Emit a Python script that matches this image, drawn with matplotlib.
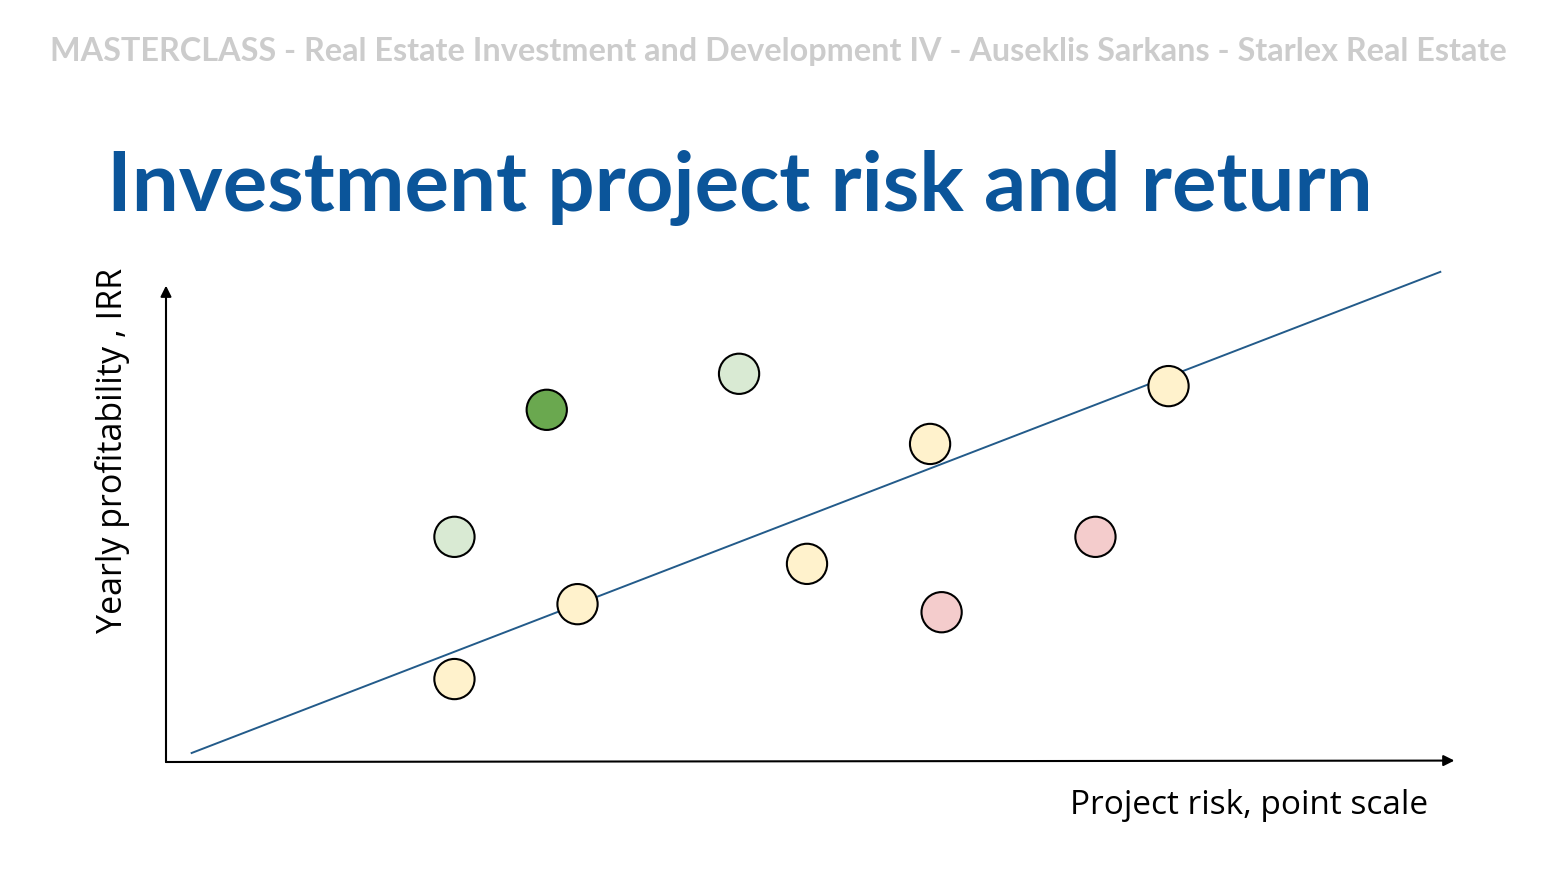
import matplotlib
matplotlib.use("Agg")
import matplotlib.pyplot as plt

# Data (risk score 0-100, IRR score 0-100)
risk = [22.5, 22.5, 29.7, 32.1, 44.7, 50.0, 59.6, 60.5, 72.5, 78.2]
irr = [17.5, 47.5, 74.3, 33.3, 81.9, 41.8, 67.1, 31.6, 47.5, 79.3]
colors = ["#FFF2CC", "#D9EAD3", "#6AA84F", "#FFF2CC", "#D9EAD3",
          "#FFF2CC", "#FFF2CC", "#F4CCCC", "#F4CCCC", "#FFF2CC"]
trend_x = [2.0, 99.4]
trend_y = [1.9, 103.4]

header = "MASTERCLASS - Real Estate Investment and Development IV - Auseklis Sarkans - Starlex Real Estate"
title = "Investment project risk and return"
xlabel = "Project risk, point scale"
ylabel = "Yearly profitability , IRR"

W, H = 1556, 873
fig = plt.figure(figsize=(W / 100, H / 100), dpi=100)
fig.patch.set_facecolor("white")

ax = fig.add_axes([166 / W, (H - 762) / H, 1282 / W, 500 / H])
ax.set_xlim(0, 100)
ax.set_ylim(0, 500 / 4.74)
ax.axis("off")

ax.plot(trend_x, trend_y, color="#235b8a", lw=1.4, zorder=2)
ax.scatter(risk, irr, s=840, c=colors, edgecolors="black", linewidths=1.5, zorder=3)

arrow = dict(arrowstyle="-|>", mutation_scale=16, lw=1.5, color="black",
             shrinkA=0, shrinkB=0)
ax.annotate("", xy=(100.5, 0.3), xytext=(0, 0), arrowprops=arrow,
            annotation_clip=False)
ax.annotate("", xy=(0, 100.5), xytext=(0, 0), arrowprops=arrow,
            annotation_clip=False)

fig.text(778 / W, 1 - 52 / H, header, ha="center", va="center",
         fontsize=23.3, fontweight="bold", color="#CCCCCC", family="Lato")
fig.text(107 / W, 1 - 188 / H, title, ha="left", va="center",
         fontsize=60, fontweight="bold", color="#0B559A", family="Lato")
fig.text(1428 / W, 1 - 805 / H, xlabel, ha="right", va="center",
         fontsize=24, color="black", family="Open Sans")
fig.text(113 / W, 1 - 450 / H, ylabel, ha="center", va="center",
         rotation=90, fontsize=24.5, color="black", family="Open Sans")

fig.savefig("out.png", dpi=100)
